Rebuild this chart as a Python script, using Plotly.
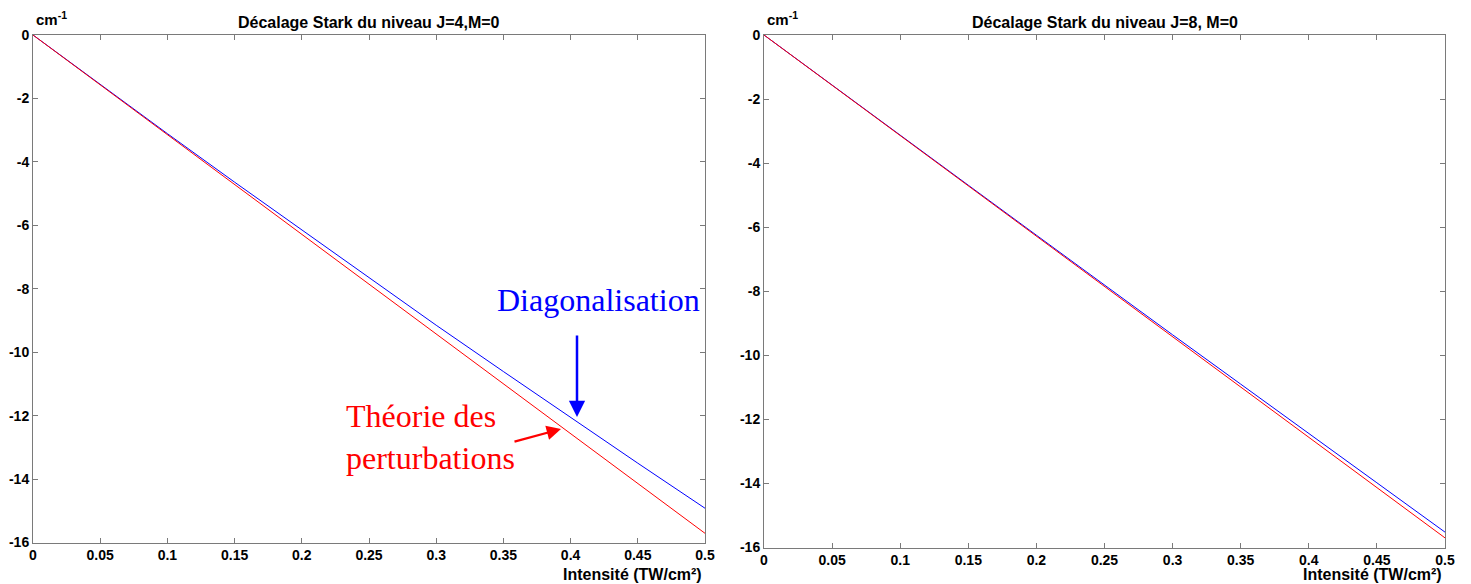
import plotly.graph_objects as go

# ---- data ----
intensite = [0, 0.05, 0.10, 0.15, 0.20, 0.25, 0.30, 0.35, 0.40, 0.45, 0.50]

j4_diagonalisation = [0, -1.56, -3.11, -4.64, -6.15, -7.66, -9.15, -10.61, -12.06, -13.50, -14.92]
j4_perturbations = [0, -1.57, -3.14, -4.71, -6.28, -7.86, -9.43, -11.00, -12.57, -14.14, -15.71]

j8_diagonalisation = [0, -1.57, -3.13, -4.69, -6.25, -7.81, -9.36, -10.90, -12.45, -13.98, -15.52]
j8_perturbations = [0, -1.57, -3.14, -4.71, -6.28, -7.85, -9.42, -10.99, -12.56, -14.13, -15.70]

x_tickvals = [0, 0.05, 0.10, 0.15, 0.20, 0.25, 0.30, 0.35, 0.40, 0.45, 0.50]
x_ticktext = ["0", "0.05", "0.1", "0.15", "0.2", "0.25", "0.3", "0.35", "0.4", "0.45", "0.5"]
y_tickvals = [0, -2, -4, -6, -8, -10, -12, -14, -16]
y_ticktext = ["0", "-2", "-4", "-6", "-8", "-10", "-12", "-14", "-16"]

titles = ["Décalage Stark du niveau J=4,M=0", "Décalage Stark du niveau J=8, M=0"]
x_label = "Intensité (TW/cm²)"
y_unit = "cm<sup>-1</sup>"

# ---- layout helpers ----
# the page body has an 8px margin, so the figure is placed at (8, 8)
W, H = 1471, 584
OFF = 8
FW, FH = W - OFF, H - OFF


def px(x):
    return (x - OFF) / FW


def py(y):
    return 1 - (y - OFF) / FH


SANS = "Liberation Sans, Arial, sans-serif"
SERIF = "Liberation Serif, Times New Roman, serif"
AXC = "#7a7a7a"

fig = go.Figure()

panels = [
    ("x", "y", j4_diagonalisation, j4_perturbations),
    ("x2", "y2", j8_diagonalisation, j8_perturbations),
]
for xa, ya, diag, pert in panels:
    fig.add_trace(go.Scatter(x=intensite, y=diag, mode="lines", xaxis=xa, yaxis=ya,
                             line=dict(color="#0000ff", width=1), showlegend=False))
    fig.add_trace(go.Scatter(x=intensite, y=pert, mode="lines", xaxis=xa, yaxis=ya,
                             line=dict(color="#ff0000", width=1), showlegend=False))

axis_common = dict(
    ticks="inside", ticklen=5, tickcolor=AXC, tickwidth=1,
    showline=True, linecolor=AXC, linewidth=1, mirror="ticks",
    showgrid=False, zeroline=False, automargin=False,
    tickfont=dict(family=SANS, size=14, color="black", weight="bold"),
)

# pixel boxes of the two plot areas (in reference picture pixels)
boxes = [(33, 705, 35, 542.5), (764, 1445, 35, 547.5)]

fig.update_layout(
    width=FW, height=FH,
    margin=dict(l=0, r=0, t=0, b=0, autoexpand=False),
    paper_bgcolor="white", plot_bgcolor="white",
    xaxis=dict(domain=[px(boxes[0][0]), px(boxes[0][1])], range=[0, 0.5],
               tickvals=x_tickvals, ticktext=x_ticktext, anchor="y", **axis_common),
    yaxis=dict(domain=[py(boxes[0][3]), py(boxes[0][2])], range=[-16, 0],
               tickvals=y_tickvals, ticktext=y_ticktext, anchor="x", **axis_common),
    xaxis2=dict(domain=[px(boxes[1][0]), px(boxes[1][1])], range=[0, 0.5],
                tickvals=x_tickvals, ticktext=x_ticktext, anchor="y2", **axis_common),
    yaxis2=dict(domain=[py(boxes[1][3]), py(boxes[1][2])], range=[-16, 0],
                tickvals=y_tickvals, ticktext=y_ticktext, anchor="x2", **axis_common),
)

annotations = []
for (x0, x1, y0, y1), title in zip(boxes, titles):
    annotations.append(dict(text=title, x=px((x0 + x1) / 2), y=py(22), xref="paper", yref="paper",
                            xanchor="center", yanchor="middle", showarrow=False,
                            font=dict(family=SANS, size=16, color="black", weight="bold")))
    annotations.append(dict(text=y_unit, x=px(x0 + 1), y=py(19), xref="paper", yref="paper",
                            xanchor="left", yanchor="middle", showarrow=False,
                            font=dict(family=SANS, size=15, color="black", weight="bold")))
    annotations.append(dict(text=x_label, x=px(x1 - 1), y=py(574), xref="paper", yref="paper",
                            xanchor="right", yanchor="middle", showarrow=False,
                            font=dict(family=SANS, size=16, color="black", weight="bold")))

# callouts on the left panel
annotations.append(dict(text="Diagonalisation", x=px(598), y=py(300), xref="paper", yref="paper",
                        xanchor="center", yanchor="middle", showarrow=False,
                        font=dict(family=SERIF, size=32, color="#0000ff")))
annotations.append(dict(text="Théorie des<br>perturbations", x=px(344), y=py(437), xref="paper",
                        yref="paper", xanchor="left", yanchor="middle", align="left", showarrow=False,
                        font=dict(family=SERIF, size=32, color="#ff0000")))
# arrows: head position in paper coords, tail as pixel offset
annotations.append(dict(text="", x=px(577), y=py(417), xref="paper", yref="paper",
                        ax=0, ay=334 - 417,
                        showarrow=True, arrowhead=2, arrowsize=1.3, arrowwidth=2.5,
                        arrowcolor="#0000ff"))
annotations.append(dict(text="", x=px(561), y=py(429), xref="paper", yref="paper",
                        ax=513 - 561, ay=442 - 429,
                        showarrow=True, arrowhead=2, arrowsize=1.3, arrowwidth=2.2,
                        arrowcolor="#ff0000"))
fig.update_layout(annotations=annotations)

fig.write_html("out.html")
